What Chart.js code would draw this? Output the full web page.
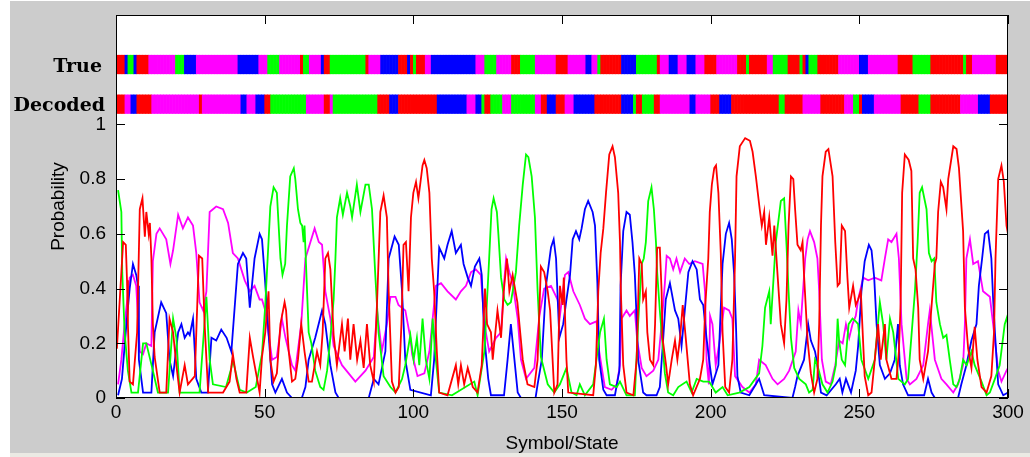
<!DOCTYPE html>
<html>
<head>
<meta charset="utf-8">
<title>Posterior state probabilities</title>
<script src="https://cdn.jsdelivr.net/npm/chart.js@4.4.1/dist/chart.umd.min.js"></script>
<style>
  html, body { margin: 0; padding: 0; background: #ffffff; }
  #wrap { width: 1030px; height: 457px; }
</style>
</head>
<body>
<div id="wrap"><canvas id="chart" width="1030" height="457"></canvas></div>
<script>
(function () {
  "use strict";

  // axis ticks
  const xTicks = [0, 50, 100, 150, 200, 250, 300];
  const yTicks = [0, 0.2, 0.4, 0.6, 0.8, 1];

  // state sequences as runs of [state, length], 300 symbols each
  const trueRuns = [
    ["r", 3], ["b", 1], ["g", 2], ["b", 1], ["r", 4], ["m", 9], ["g", 3], ["b", 4], ["m", 14], ["b", 7],
    ["m", 3], ["g", 4], ["m", 7], ["r", 1], ["g", 2], ["m", 4], ["b", 1], ["r", 2], ["g", 12], ["r", 1],
    ["m", 4], ["b", 6], ["r", 3], ["b", 1], ["r", 1], ["g", 1], ["r", 3], ["m", 2], ["b", 15], ["m", 3],
    ["g", 4], ["m", 5], ["r", 3], ["g", 5], ["m", 7], ["r", 4], ["m", 6], ["b", 2], ["m", 2], ["g", 1],
    ["r", 7], ["b", 5], ["g", 7], ["r", 1], ["m", 3], ["b", 3], ["m", 3], ["b", 3], ["m", 3], ["r", 4],
    ["m", 7], ["r", 3], ["g", 1], ["r", 6], ["m", 2], ["g", 5], ["r", 4], ["g", 1], ["r", 1], ["b", 1],
    ["g", 3], ["r", 7], ["m", 7], ["b", 3], ["m", 10], ["r", 5], ["g", 6], ["r", 11], ["g", 1], ["r", 2],
    ["m", 8], ["r", 4]
  ];
  const decodedRuns = [
    ["r", 3], ["m", 2], ["b", 2], ["r", 5], ["m", 16], ["r", 1], ["m", 13], ["b", 2], ["m", 3], ["b", 3],
    ["r", 2], ["g", 12], ["m", 6], ["r", 2], ["m", 1], ["g", 15], ["r", 4], ["b", 3], ["r", 13], ["b", 10],
    ["m", 3], ["b", 2], ["g", 1], ["r", 2], ["g", 4], ["m", 3], ["g", 8], ["m", 2], ["r", 2], ["b", 3],
    ["r", 3], ["m", 3], ["b", 7], ["r", 9], ["b", 4], ["g", 1], ["r", 2], ["g", 4], ["r", 2], ["m", 10],
    ["b", 2], ["m", 5], ["r", 3], ["b", 4], ["r", 16], ["g", 2], ["r", 6], ["m", 6], ["r", 8], ["m", 3],
    ["g", 2], ["r", 1], ["b", 4], ["m", 9], ["r", 6], ["g", 4], ["r", 10], ["m", 6], ["b", 4], ["r", 6]
  ];

  // posterior probability per state, [symbol, probability]
  const redPts = [
    [0.3, 0.18], [2.4, 0.57], [3.3, 0.56], [3.7, 0.43], [4.0, 0.27], [4.6, 0.06], [5.7, 0.05], [7.1, 0.24], [8.0, 0.69], [8.9, 0.73],
    [9.7, 0.59], [10.2, 0.68], [11.0, 0.60], [11.4, 0.64], [11.9, 0.51], [12.4, 0.27], [13.0, 0.15], [14.7, 0.02], [16.9, 0.02], [18.0, 0.29],
    [19.2, 0.24], [20.3, 0.12], [21.4, 0.02], [23.1, 0.12], [24.2, 0.05], [26.5, 0.08], [27.9, 0.52], [29.0, 0.51], [29.8, 0.27], [31.0, 0.02],
    [36.0, 0.02], [38.2, 0.06], [39.3, 0.16], [40.5, 0.07], [41.6, 0.02], [43.8, 0.02], [45.0, 0.22], [46.1, 0.15], [48.3, 0.02], [49.1, 0.15],
    [50.2, 0.24], [51.3, 0.39], [51.9, 0.14], [53.0, 0.06], [54.1, 0.09], [55.3, 0.27], [56.7, 0.35], [57.2, 0.32], [58.1, 0.17], [59.2, 0.06],
    [60.3, 0.07], [61.2, 0.14], [62.3, 0.27], [63.4, 0.17], [64.8, 0.06], [65.9, 0.06], [67.6, 0.17], [68.7, 0.12], [69.5, 0.24], [70.4, 0.51],
    [71.3, 0.53], [72.1, 0.47], [73.2, 0.23], [74.3, 0.12], [76.0, 0.27], [76.9, 0.17], [78.0, 0.29], [78.8, 0.14], [79.9, 0.27], [81.1, 0.14],
    [82.2, 0.21], [83.3, 0.11], [84.4, 0.27], [85.5, 0.12], [86.7, 0.06], [87.8, 0.35], [88.9, 0.68], [90.0, 0.74], [91.1, 0.66], [91.7, 0.39],
    [92.8, 0.06], [94.0, 0.02], [95.1, 0.04], [96.0, 0.27], [96.7, 0.56], [97.5, 0.57], [98.4, 0.39], [99.2, 0.66], [100.0, 0.75], [100.9, 0.79],
    [101.7, 0.73], [102.3, 0.78], [103.1, 0.85], [103.7, 0.87], [104.5, 0.84], [105.4, 0.75], [106.2, 0.51], [107.0, 0.39], [107.9, 0.17], [108.7, 0.02],
    [111.5, 0.01], [114.3, 0.12], [115.1, 0.05], [116.0, 0.12], [117.1, 0.05], [118.3, 0.11], [120.0, 0.04], [121.6, 0.02], [123.0, 0.12], [124.1, 0.40],
    [124.8, 0.27], [126.1, 0.24], [126.7, 0.14], [128.3, 0.32], [129.5, 0.22], [130.4, 0.39], [131.5, 0.51], [132.3, 0.39], [133.4, 0.45], [135.0, 0.35],
    [136.8, 0.14], [138.4, 0.05], [140.7, 0.04], [141.8, 0.14], [142.9, 0.48], [144.0, 0.46], [145.2, 0.39], [146.0, 0.32], [147.4, 0.02], [148.5, 0.05],
    [149.3, 0.41], [150.2, 0.34], [150.6, 0.44], [151.5, 0.14], [152.1, 0.02], [160.5, 0.01], [161.4, 0.12], [162.2, 0.39], [163.0, 0.53], [163.9, 0.62],
    [164.8, 0.75], [165.9, 0.89], [167.0, 0.92], [167.8, 0.88], [168.9, 0.75], [169.5, 0.57], [169.8, 0.39], [170.6, 0.12], [171.7, 0.02], [174.0, 0.01],
    [175.1, 0.14], [176.0, 0.51], [176.8, 0.49], [177.3, 0.36], [178.2, 0.39], [178.7, 0.24], [179.6, 0.14], [180.7, 0.12], [181.3, 0.27], [182.0, 0.55],
    [182.9, 0.55], [183.5, 0.39], [183.8, 0.22], [185.0, 0.12], [185.7, 0.05], [186.9, 0.14], [188.0, 0.21], [188.8, 0.14], [189.7, 0.22], [190.6, 0.34],
    [191.7, 0.21], [193.0, 0.05], [194.1, 0.01], [196.4, 0.07], [197.5, 0.14], [198.2, 0.34], [199.2, 0.51], [199.7, 0.68], [200.4, 0.78], [201.2, 0.84],
    [201.8, 0.85], [202.6, 0.75], [203.4, 0.53], [204.0, 0.24], [204.9, 0.04], [206.2, 0.02], [207.3, 0.14], [208.2, 0.51], [208.7, 0.81], [209.8, 0.92],
    [211.6, 0.95], [213.2, 0.94], [214.1, 0.90], [215.2, 0.81], [216.5, 0.69], [217.2, 0.63], [218.0, 0.68], [218.6, 0.56], [219.7, 0.66], [220.8, 0.52],
    [221.4, 0.63], [222.5, 0.45], [223.6, 0.27], [224.7, 0.20], [225.5, 0.36], [226.2, 0.63], [227.0, 0.81], [227.8, 0.80], [228.4, 0.69], [229.2, 0.56],
    [230.3, 0.54], [230.9, 0.57], [231.4, 0.45], [232.6, 0.21], [233.7, 0.09], [234.8, 0.02], [235.9, 0.07], [236.5, 0.27], [237.1, 0.63], [237.6, 0.81],
    [238.7, 0.90], [239.6, 0.91], [241.0, 0.81], [241.9, 0.57], [242.7, 0.41], [243.4, 0.42], [244.1, 0.63], [245.2, 0.61], [246.0, 0.44], [246.6, 0.33],
    [247.9, 0.41], [248.8, 0.34], [249.6, 0.36], [250.5, 0.39], [251.0, 0.27], [251.8, 0.08], [253.0, 0.01], [254.1, 0.02], [255.2, 0.14], [256.3, 0.27],
    [257.2, 0.14], [258.6, 0.27], [259.1, 0.14], [260.8, 0.07], [262.5, 0.07], [263.3, 0.17], [263.9, 0.35], [264.4, 0.75], [265.3, 0.89], [266.6, 0.87],
    [267.5, 0.83], [268.1, 0.51], [268.9, 0.47], [269.8, 0.33], [270.3, 0.14], [271.5, 0.07], [273.1, 0.17], [275.4, 0.49], [275.9, 0.51], [276.5, 0.68],
    [277.4, 0.79], [278.2, 0.77], [279.3, 0.69], [279.9, 0.80], [281.6, 0.92], [282.7, 0.91], [283.5, 0.84], [284.9, 0.61], [285.5, 0.33], [286.6, 0.18],
    [287.7, 0.11], [288.8, 0.26], [289.7, 0.14], [291.1, 0.04], [292.8, 0.02], [294.4, 0.08], [295.3, 0.24], [295.8, 0.51], [296.7, 0.80], [297.8, 0.85],
    [298.6, 0.79], [299.5, 0.63], [300, 0.60]
  ];
  const greenPts = [
    [0.7, 0.76], [1.8, 0.68], [2.1, 0.46], [2.9, 0.24], [4.0, 0.10], [5.2, 0.02], [7.4, 0.02], [9.1, 0.20], [10.2, 0.20], [12.4, 0.10],
    [14.1, 0.02], [17.5, 0.02], [19.2, 0.29], [20.3, 0.22], [21.4, 0.02], [28.1, 0.02], [30.4, 0.37], [31.5, 0.14], [32.6, 0.05], [37.0, 0.04],
    [38.8, 0.11], [39.3, 0.14], [41.6, 0.03], [44.0, 0.02], [47.0, 0.04], [49.1, 0.16], [50.2, 0.34], [51.9, 0.70], [53.0, 0.77], [54.1, 0.75],
    [54.7, 0.63], [55.3, 0.51], [56.0, 0.45], [56.9, 0.49], [57.5, 0.63], [58.6, 0.81], [59.8, 0.84], [60.3, 0.80], [61.2, 0.69], [62.0, 0.64],
    [62.6, 0.63], [63.1, 0.57], [63.4, 0.63], [63.9, 0.49], [64.8, 0.24], [65.7, 0.20], [67.0, 0.10], [68.7, 0.04], [69.8, 0.03], [71.0, 0.10],
    [72.1, 0.22], [73.2, 0.36], [73.8, 0.51], [74.3, 0.66], [75.4, 0.73], [76.3, 0.67], [77.7, 0.75], [78.8, 0.70], [79.4, 0.66], [81.0, 0.78],
    [82.2, 0.68], [83.9, 0.78], [85.0, 0.78], [86.1, 0.69], [87.2, 0.45], [88.3, 0.24], [90.0, 0.08], [92.3, 0.04], [94.0, 0.02], [96.2, 0.07],
    [97.3, 0.12], [99.0, 0.23], [100.1, 0.14], [101.2, 0.22], [102.0, 0.12], [103.1, 0.29], [104.2, 0.14], [105.4, 0.07], [106.5, 0.29], [107.3, 0.17],
    [108.7, 0.02], [113.0, 0.01], [120.5, 0.06], [121.6, 0.01], [123.9, 0.17], [124.8, 0.36], [125.5, 0.51], [126.3, 0.69], [127.0, 0.73], [128.1, 0.68],
    [128.6, 0.60], [129.5, 0.44], [130.6, 0.36], [131.7, 0.34], [132.8, 0.35], [134.5, 0.46], [135.6, 0.63], [136.8, 0.78], [137.9, 0.89], [138.7, 0.88],
    [139.8, 0.81], [140.9, 0.66], [141.8, 0.39], [142.9, 0.15], [145.2, 0.05], [147.4, 0.02], [149.3, 0.05], [151.5, 0.11], [153.2, 0.02], [154.9, 0.01],
    [156.0, 0.05], [157.7, 0.01], [160.5, 0.05], [162.8, 0.24], [164.1, 0.29], [165.0, 0.14], [166.1, 0.05], [168.4, 0.04], [169.5, 0.06], [171.7, 0.01],
    [174.5, 0.01], [175.6, 0.27], [176.8, 0.49], [177.5, 0.51], [178.2, 0.57], [179.0, 0.72], [180.1, 0.77], [180.9, 0.69], [181.6, 0.57], [182.0, 0.46],
    [182.9, 0.32], [183.5, 0.24], [184.6, 0.09], [185.7, 0.02], [187.4, 0.01], [189.1, 0.04], [191.9, 0.06], [193.6, 0.02], [195.3, 0.07], [197.5, 0.06],
    [199.5, 0.06], [201.7, 0.02], [204.0, 0.04], [205.7, 0.01], [209.6, 0.02], [213.0, 0.04], [216.3, 0.09], [217.4, 0.19], [218.3, 0.33], [219.7, 0.39],
    [220.2, 0.27], [221.9, 0.57], [223.6, 0.72], [224.7, 0.73], [225.5, 0.56], [226.2, 0.39], [227.0, 0.22], [228.1, 0.11], [229.8, 0.07], [232.0, 0.05],
    [233.1, 0.02], [234.3, 0.03], [235.1, 0.14], [235.9, 0.12], [237.6, 0.05], [239.3, 0.02], [241.0, 0.06], [242.1, 0.12], [242.7, 0.29], [243.2, 0.21],
    [244.1, 0.14], [245.2, 0.12], [246.4, 0.27], [247.7, 0.29], [248.8, 0.28], [249.6, 0.27], [250.7, 0.14], [253.0, 0.07], [255.2, 0.14], [256.9, 0.35],
    [258.0, 0.27], [259.1, 0.14], [260.3, 0.29], [261.4, 0.24], [263.1, 0.07], [265.3, 0.05], [266.4, 0.07], [268.7, 0.39], [269.6, 0.57], [270.3, 0.75],
    [271.1, 0.77], [272.6, 0.69], [273.4, 0.53], [274.3, 0.50], [275.2, 0.51], [275.9, 0.35], [277.1, 0.27], [278.2, 0.22], [279.3, 0.23], [280.4, 0.14],
    [281.6, 0.05], [282.7, 0.04], [283.8, 0.07], [284.9, 0.14], [286.1, 0.12], [287.7, 0.17], [288.8, 0.12], [291.1, 0.06], [292.8, 0.01], [293.9, 0.02],
    [295.6, 0.07], [297.2, 0.12], [298.9, 0.27], [299.8, 0.30], [300, 0.22]
  ];
  const bluePts = [
    [0.7, 0.01], [2.0, 0.07], [3.5, 0.27], [4.6, 0.40], [5.7, 0.49], [6.8, 0.45], [7.4, 0.41], [7.7, 0.14], [9.1, 0.02], [11.9, 0.02],
    [13.0, 0.24], [15.2, 0.35], [16.9, 0.31], [18.0, 0.14], [19.2, 0.08], [20.9, 0.24], [22.0, 0.27], [23.1, 0.22], [24.2, 0.24], [24.8, 0.23],
    [25.9, 0.29], [27.0, 0.07], [28.7, 0.02], [30.9, 0.02], [32.1, 0.22], [33.7, 0.21], [35.4, 0.25], [37.2, 0.22], [38.8, 0.17], [41.0, 0.49],
    [42.7, 0.53], [43.8, 0.51], [45.0, 0.33], [46.6, 0.51], [48.3, 0.60], [49.1, 0.58], [50.0, 0.45], [51.1, 0.27], [52.5, 0.05], [53.6, 0.02],
    [55.8, 0.07], [57.5, 0.02], [59.2, 0.0], [62.5, 0.0], [63.7, 0.04], [64.8, 0.14], [67.0, 0.22], [69.3, 0.32], [70.4, 0.27], [72.1, 0.12],
    [73.8, 0.02], [74.9, 0.0], [85.0, 0.0], [86.7, 0.07], [88.3, 0.05], [90.6, 0.17], [91.7, 0.51], [93.7, 0.59], [95.1, 0.56], [96.2, 0.39],
    [97.3, 0.14], [99.0, 0.03], [105.9, 0.01], [107.0, 0.14], [107.9, 0.36], [108.7, 0.55], [110.4, 0.51], [111.5, 0.56], [112.9, 0.61], [114.3, 0.53],
    [116.0, 0.56], [116.9, 0.49], [118.3, 0.44], [119.4, 0.41], [120.7, 0.48], [122.2, 0.51], [123.0, 0.45], [123.9, 0.22], [125.2, 0.07], [126.1, 0.01],
    [130.5, 0.01], [131.7, 0.14], [132.8, 0.27], [134.0, 0.14], [135.1, 0.02], [136.2, 0.0], [141.1, 0.0], [141.8, 0.05], [143.2, 0.14], [144.6, 0.41],
    [146.3, 0.55], [147.2, 0.58], [148.0, 0.51], [149.1, 0.22], [150.4, 0.27], [151.5, 0.36], [152.7, 0.45], [153.6, 0.58], [154.7, 0.61], [155.8, 0.58],
    [156.6, 0.62], [157.7, 0.69], [158.8, 0.72], [160.3, 0.68], [161.1, 0.63], [161.9, 0.42], [162.5, 0.14], [163.9, 0.03], [165.0, 0.01], [167.8, 0.01],
    [169.3, 0.10], [169.7, 0.41], [170.6, 0.61], [171.7, 0.68], [172.8, 0.67], [173.7, 0.57], [174.5, 0.45], [175.1, 0.29], [175.6, 0.14], [177.3, 0.02],
    [178.4, 0.01], [181.8, 0.01], [182.9, 0.04], [184.0, 0.21], [184.9, 0.36], [186.3, 0.42], [188.0, 0.32], [189.1, 0.29], [190.2, 0.19], [191.3, 0.32],
    [192.5, 0.46], [193.9, 0.50], [195.3, 0.47], [196.4, 0.36], [197.5, 0.34], [198.6, 0.22], [199.7, 0.12], [200.6, 0.05], [202.6, 0.12], [204.0, 0.49],
    [205.1, 0.60], [206.2, 0.64], [207.1, 0.58], [207.9, 0.45], [208.5, 0.27], [209.0, 0.08], [210.1, 0.02], [213.0, 0.01], [215.2, 0.05], [216.3, 0.07],
    [218.0, 0.01], [227.5, 0.0], [228.4, 0.04], [229.2, 0.08], [231.4, 0.14], [232.8, 0.27], [233.7, 0.21], [235.1, 0.17], [235.6, 0.14], [237.1, 0.02],
    [239.0, 0.01], [242.1, 0.05], [243.4, 0.07], [244.3, 0.02], [245.5, 0.07], [247.2, 0.02], [248.8, 0.10], [249.6, 0.19], [250.7, 0.39], [251.8, 0.50],
    [253.2, 0.56], [254.1, 0.54], [255.0, 0.44], [255.8, 0.27], [256.9, 0.12], [258.6, 0.07], [260.3, 0.09], [261.9, 0.14], [263.0, 0.27], [263.6, 0.12],
    [264.7, 0.05], [266.4, 0.01], [271.8, 0.01], [273.1, 0.07], [274.3, 0.02], [275.4, 0.0], [283.2, 0.0], [284.3, 0.05], [286.0, 0.12], [287.7, 0.21],
    [289.4, 0.27], [290.2, 0.41], [291.3, 0.51], [292.2, 0.60], [293.3, 0.61], [294.4, 0.51], [295.0, 0.36], [295.6, 0.24], [296.7, 0.05], [298.4, 0.01],
    [300, 0.02]
  ];
  const magentaPts = [
    [0.7, 0.05], [1.8, 0.14], [2.9, 0.27], [4.6, 0.44], [5.7, 0.45], [6.8, 0.41], [8.0, 0.17], [9.1, 0.16], [10.2, 0.20], [11.9, 0.19],
    [12.4, 0.50], [13.6, 0.60], [14.7, 0.62], [16.9, 0.58], [18.3, 0.49], [19.2, 0.54], [20.9, 0.67], [22.5, 0.62], [24.2, 0.66], [25.9, 0.63],
    [27.0, 0.53], [28.1, 0.35], [29.3, 0.32], [30.4, 0.39], [31.5, 0.68], [33.7, 0.70], [36.0, 0.69], [37.7, 0.64], [39.3, 0.53], [41.0, 0.51],
    [43.3, 0.43], [45.0, 0.39], [46.6, 0.41], [48.3, 0.36], [49.1, 0.36], [50.2, 0.32], [52.5, 0.14], [54.1, 0.15], [55.8, 0.29], [57.0, 0.22],
    [59.2, 0.12], [60.3, 0.10], [62.3, 0.27], [63.7, 0.51], [65.4, 0.57], [66.8, 0.62], [68.2, 0.57], [69.3, 0.56], [70.4, 0.39], [72.1, 0.29],
    [73.2, 0.19], [76.0, 0.12], [80.5, 0.06], [83.9, 0.10], [86.7, 0.15], [87.8, 0.32], [89.4, 0.17], [91.1, 0.27], [92.3, 0.37], [94.0, 0.37],
    [95.0, 0.34], [97.3, 0.32], [99.0, 0.22], [99.6, 0.16], [101.4, 0.08], [103.7, 0.09], [105.4, 0.17], [107.6, 0.41], [109.3, 0.42], [111.5, 0.39],
    [114.3, 0.36], [116.0, 0.39], [117.7, 0.41], [119.4, 0.46], [121.0, 0.47], [122.7, 0.45], [123.9, 0.27], [125.5, 0.17], [127.8, 0.22], [129.5, 0.24],
    [130.6, 0.43], [131.2, 0.51], [132.3, 0.46], [133.4, 0.42], [135.1, 0.29], [136.2, 0.14], [137.9, 0.07], [140.7, 0.11], [142.4, 0.30], [144.0, 0.40],
    [146.3, 0.41], [148.5, 0.36], [149.3, 0.30], [151.0, 0.45], [152.1, 0.46], [153.8, 0.39], [156.0, 0.34], [157.7, 0.29], [159.4, 0.27], [161.6, 0.28],
    [162.5, 0.17], [164.4, 0.04], [166.7, 0.03], [168.4, 0.05], [169.5, 0.12], [170.0, 0.29], [171.7, 0.32], [172.8, 0.30], [174.5, 0.32], [175.3, 0.21],
    [176.8, 0.11], [178.4, 0.08], [180.7, 0.10], [182.4, 0.14], [183.5, 0.27], [184.6, 0.42], [185.2, 0.52], [186.3, 0.51], [187.4, 0.47], [188.5, 0.51],
    [189.7, 0.46], [191.3, 0.51], [192.8, 0.49], [194.7, 0.50], [197.3, 0.49], [198.1, 0.39], [198.6, 0.14], [199.4, 0.05], [199.8, 0.30], [200.6, 0.27],
    [201.7, 0.12], [202.9, 0.20], [204.5, 0.33], [206.2, 0.32], [207.3, 0.29], [208.2, 0.08], [210.7, 0.04], [213.0, 0.02], [215.2, 0.05], [216.3, 0.14],
    [218.5, 0.12], [220.8, 0.07], [222.5, 0.05], [224.7, 0.07], [226.4, 0.10], [228.6, 0.17], [229.5, 0.32], [230.3, 0.27], [231.8, 0.51], [232.6, 0.58],
    [233.4, 0.61], [234.8, 0.57], [235.9, 0.51], [236.5, 0.39], [237.4, 0.14], [238.7, 0.06], [240.4, 0.05], [241.9, 0.12], [243.2, 0.21], [244.4, 0.20],
    [245.5, 0.27], [246.6, 0.22], [247.7, 0.27], [248.8, 0.30], [249.6, 0.36], [251.3, 0.44], [253.0, 0.43], [255.2, 0.44], [257.4, 0.43], [258.6, 0.51],
    [259.7, 0.58], [260.8, 0.57], [262.5, 0.60], [263.3, 0.51], [264.2, 0.27], [265.9, 0.07], [267.0, 0.05], [269.2, 0.07], [271.5, 0.12], [273.1, 0.27],
    [273.7, 0.32], [275.4, 0.14], [277.6, 0.07], [279.3, 0.05], [281.6, 0.02], [283.2, 0.05], [284.9, 0.12], [285.5, 0.27], [286.0, 0.51], [287.2, 0.58],
    [288.3, 0.49], [289.9, 0.50], [291.6, 0.39], [293.9, 0.37], [295.0, 0.27], [296.7, 0.10], [297.8, 0.06], [299.5, 0.10], [300, 0.11]
  ];

  const stateColors = { r: "#ff0000", g: "#00ff00", b: "#0000ff", m: "#ff00ff" };

  // vertical extent of the two state strips, in probability units above 1
  const trueBand = [1.185, 1.253];
  const decodedBand = [1.040, 1.108];

  function expandRuns(runs) {
    const out = [];
    runs.forEach(([state, count]) => {
      for (let k = 0; k < count; k++) out.push(state);
    });
    return out;
  }

  function toPoints(pairs) {
    return pairs.map(([x, y]) => ({ x, y }));
  }

  function stripDataset(states, band) {
    return {
      type: "bar",
      data: states.map((s, i) => ({ x: i + 0.5, y: band })),
      backgroundColor: states.map((s) => stateColors[s]),
      borderWidth: 0,
      grouped: false,
      barPercentage: 1,
      categoryPercentage: 1
    };
  }

  function lineDataset(pairs, color) {
    return {
      type: "line",
      data: toPoints(pairs),
      borderColor: color,
      borderWidth: 1.8,
      pointRadius: 0,
      tension: 0,
      fill: false
    };
  }

  const trueStates = expandRuns(trueRuns);
  const decodedStates = expandRuns(decodedRuns);

  const frame = {
    id: "frame",
    beforeDraw(chart) {
      const { ctx, chartArea: a } = chart;
      ctx.save();
      ctx.fillStyle = "#ffffff";
      ctx.fillRect(0, 0, chart.width, chart.height);
      ctx.fillStyle = "#cccccc";
      ctx.fillRect(10, 1, chart.width - 10, chart.height - 1);
      // light strip along the bottom edge of the window
      ctx.fillStyle = "#ebeae4";
      ctx.fillRect(10, chart.height - 4, chart.width - 10, 4);
      ctx.fillStyle = "#ffffff";
      ctx.fillRect(a.left, a.top, a.right - a.left, a.bottom - a.top);
      ctx.restore();
    },
    afterDatasetsDraw(chart) {
      const { ctx, chartArea: a, scales: { x, y } } = chart;
      ctx.save();
      ctx.strokeStyle = "#000000";
      ctx.lineWidth = 1;
      ctx.beginPath();
      xTicks.forEach((v) => {
        const px = Math.round(x.getPixelForValue(v)) + 0.5;
        ctx.moveTo(px, a.bottom);
        ctx.lineTo(px, a.bottom - 9);
        ctx.moveTo(px, a.top);
        ctx.lineTo(px, a.top + 9);
      });
      yTicks.forEach((v) => {
        const py = Math.round(y.getPixelForValue(v)) + 0.5;
        ctx.moveTo(a.left, py);
        ctx.lineTo(a.left + 9, py);
        ctx.moveTo(a.right, py);
        ctx.lineTo(a.right - 9, py);
      });
      ctx.stroke();
      ctx.strokeRect(a.left + 0.5, a.top + 0.5, a.right - a.left - 1, a.bottom - a.top - 1);

      ctx.fillStyle = "#000000";
      ctx.font = "bold 19px 'DejaVu Serif'";
      ctx.textAlign = "right";
      ctx.textBaseline = "alphabetic";
      const mid = (band) => (band[0] + band[1]) / 2;
      ctx.fillText("True", a.left - 14, y.getPixelForValue(mid(trueBand)) + 7);
      ctx.fillText("Decoded", a.left - 11, y.getPixelForValue(mid(decodedBand)) + 7);
      ctx.restore();
    }
  };

  const tickFont = { family: "'Liberation Sans', Arial, sans-serif", size: 19 };

  new Chart(document.getElementById("chart"), {
    type: "line",
    data: {
      datasets: [
        lineDataset(redPts, stateColors.r),
        lineDataset(greenPts, stateColors.g),
        lineDataset(bluePts, stateColors.b),
        lineDataset(magentaPts, stateColors.m),
        stripDataset(trueStates, trueBand),
        stripDataset(decodedStates, decodedBand)
      ]
    },
    options: {
      responsive: false,
      animation: false,
      events: [],
      layout: { padding: { left: 0, top: 15, right: 22, bottom: 0 } },
      plugins: {
        legend: { display: false },
        tooltip: { enabled: false }
      },
      scales: {
        x: {
          type: "linear",
          min: 0,
          max: 300,
          offset: false,
          afterFit: (s) => { s.height = 59; s.paddingLeft = 0; s.paddingRight = 0; },
          afterBuildTicks: (s) => { s.ticks = xTicks.map((v) => ({ value: v })); },
          grid: { display: false, drawTicks: false },
          border: { display: false },
          ticks: { padding: 3, color: "#000000", font: tickFont, maxRotation: 0, autoSkip: false },
          title: {
            display: true,
            text: "Symbol/State",
            color: "#000000",
            font: tickFont,
            padding: { top: 0, bottom: 2 }
          }
        },
        y: {
          type: "linear",
          min: 0,
          max: 1.4,
          afterFit: (s) => { s.width = 116; s.paddingTop = 0; s.paddingBottom = 0; },
          afterBuildTicks: (s) => { s.ticks = yTicks.map((v) => ({ value: v })); },
          grid: { display: false, drawTicks: false },
          border: { display: false },
          ticks: {
            padding: 10,
            color: "#000000",
            font: tickFont,
            autoSkip: false,
            callback: (v) => String(Number(Number(v).toFixed(1)))
          },
          title: {
            display: true,
            text: "Probability",
            color: "#000000",
            font: tickFont,
            padding: { top: 47, bottom: 0 }
          }
        }
      }
    },
    plugins: [frame]
  });
})();
</script>
</body>
</html>
